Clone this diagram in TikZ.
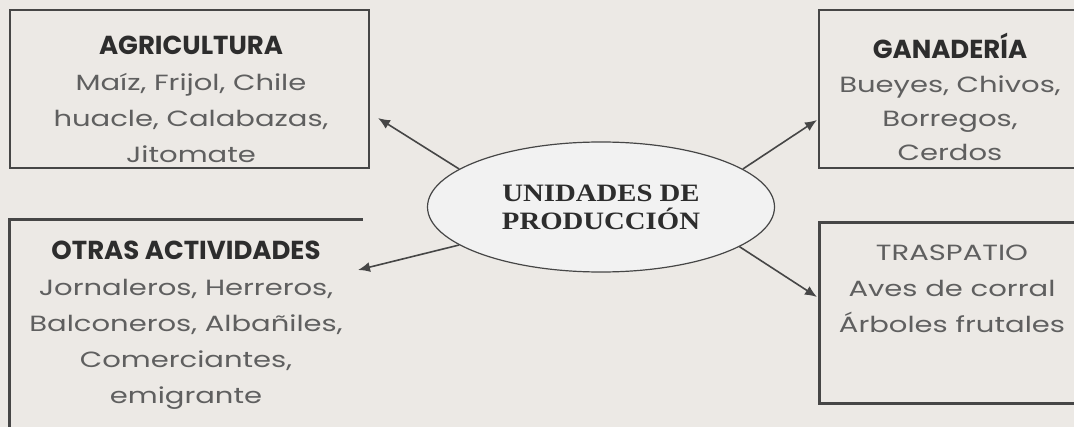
\documentclass[tikz,border=0pt]{standalone}
\usepackage{fontspec}
\setmainfont{Poppins}
\newfontfamily\cuerpo[FakeStretch=1.32]{Poppins}
\newfontfamily\serifancha[FakeStretch=1.15]{Liberation Serif}
\usetikzlibrary{arrows.meta,positioning,shapes.geometric}

\definecolor{fondo}{RGB}{236,233,229}
\definecolor{linea}{RGB}{70,70,70}
\definecolor{gristexto}{RGB}{95,95,95}
\definecolor{gristitulo}{RGB}{45,45,45}
\definecolor{elipse}{RGB}{242,242,242}

\newcommand{\titcaja}[1]{\textcolor{gristitulo}{\normalfont\bfseries\fontsize{13}{18}\selectfont #1}}

\begin{document}
\begin{tikzpicture}[x=0.5pt,y=-0.5pt,
      caja/.style={
         rectangle,
         draw=linea,
         line width=1pt,
         inner sep=0pt},
      texto/.style={
         align=center,
         text=gristexto,
         inner sep=0pt,
         font=\cuerpo\fontsize{11}{18}\selectfont},
      centro/.style={
         ellipse,
         draw=linea,
         fill=elipse,
         line width=0.6pt,
         minimum width=173.5pt,
         minimum height=65pt,
         align=center,
         text=gristitulo,
         font=\serifancha\bfseries\fontsize{12.5}{14}\selectfont},
      flecha/.style={-{Latex[length=6pt,width=5pt]}, line width=0.8pt, draw=linea}
      ]
      \fill[fondo] (0,0) rectangle (1074,427);
      \clip (0,0) rectangle (1074,427);

      % cajas
      \node[caja,minimum width=179.5pt,minimum height=79pt] (agr) at (189.5,89) {};
      \node[caja,minimum width=133pt,minimum height=79pt] (gan) at (952,89) {};
      \node[caja,line width=1.5pt,minimum width=133pt,minimum height=90.5pt] (tra) at (952,312.5) {};
      \node[inner sep=0pt,minimum width=176.5pt,minimum height=115pt] (otr) at (186.5,335) {};
      \draw[linea,line width=1.5pt] (otr.south west) -- (otr.north west) -- (otr.north east);

      % textos
      \node[texto] (agrt) at (191,99.5) {\titcaja{AGRICULTURA}\\
         Maíz, Frijol, Chile\\ huacle, Calabazas,\\ Jitomate};
      \node[texto,font=\cuerpo\fontsize{11}{17}\selectfont] (gant) at (950,97) {\titcaja{GANADERÍA}\\
         Bueyes, Chivos,\\ Borregos,\\ Cerdos};
      \node[texto] (trat) at (952,289) {TRASPATIO\\ Aves de corral\\ Árboles frutales};
      \node[texto] (otrt) at (186,325) {\titcaja{OTRAS ACTIVIDADES}\\
         Jornaleros, Herreros,\\ Balconeros, Albañiles,\\ Comerciantes,\\ emigrante};

      \node[centro] (up) at (601,207) {UNIDADES DE\\ PRODUCCIÓN};

      \coordinate (pagr) at (378,118);
      \coordinate (potr) at (358,270);
      \coordinate (pgan) at (817,120);
      \coordinate (ptra) at (817,297);

    \foreach \a/\p in {% angulo/punta
      165/pagr,
      195/potr,
      15/pgan,
      344/ptra}
       \draw [flecha] (up.\a) -- (\p);
\end{tikzpicture}
\end{document}
